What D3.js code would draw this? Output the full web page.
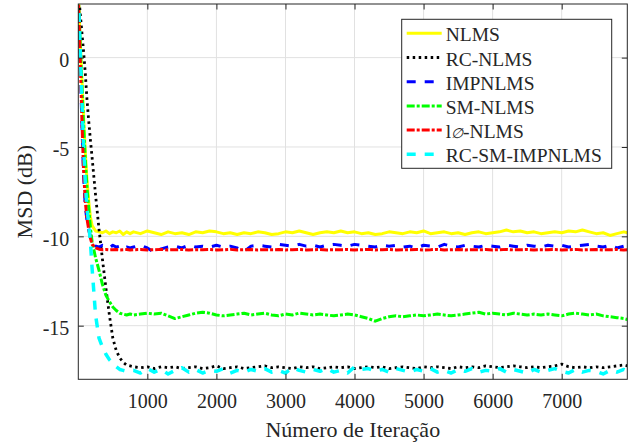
<!DOCTYPE html>
<html>
<head>
<meta charset="utf-8">
<script src="https://cdn.jsdelivr.net/npm/d3@7"></script>
<style>
  html, body { margin: 0; padding: 0; background: #fff; }
  svg { display: block; }
  text { font-family: "Liberation Serif", "Times New Roman", serif; fill: #262626; }
</style>
</head>
<body>
<svg id="chart" width="635" height="443"></svg>
<script>
// ---------- DATA ----------
const iterations = [0,25,50,75,100,125,150,175,200,250,300,350,400,450,500,550,600,650,700,750,
  800,900,1000,1100,1200,1300,1400,1500,1600,1700,
  1800,1900,2000,2100,2200,2300,2400,2500,2600,2700,
  2800,2900,3000,3100,3200,3300,3400,3500,3600,3700,
  3800,3900,4000,4100,4200,4300,4400,4500,4600,4700,
  4800,4900,5000,5100,5200,5300,5400,5500,5600,5700,
  5800,5900,6000,6100,6200,6300,6400,6500,6600,6700,
  6800,6900,7000,7100,7200,7300,7400,7500,7600,7700,
  7800,7900,7950];

const nlms = [3.5,1.2,-1.0,-3.2,-5.2,-6.8,-8.0,-8.9,-9.4,-9.7,-9.75,-9.8,-9.7,-9.85,-9.75,-9.8,-9.7,-9.9,-9.75,-9.85,
  -9.75,-9.85,-9.7,-9.8,-9.9,-9.75,-9.85,-9.8,-9.9,-9.75,
  -9.8,-9.7,-9.75,-9.85,-9.8,-9.9,-9.8,-9.85,-9.75,-9.8,
  -9.9,-9.85,-9.75,-9.8,-9.7,-9.8,-9.9,-9.8,-9.75,-9.8,
  -9.7,-9.8,-9.75,-9.85,-9.8,-9.9,-9.85,-9.75,-9.8,-9.85,
  -9.75,-9.8,-9.7,-9.85,-9.8,-9.75,-9.85,-9.8,-9.9,-9.8,
  -9.75,-9.85,-9.8,-9.75,-9.65,-9.75,-9.7,-9.8,-9.75,-9.85,
  -9.8,-9.75,-9.8,-9.7,-9.75,-9.65,-9.75,-9.85,-9.8,-9.95,
  -9.85,-9.75,-9.8];

const rcNlms = [3.8,2.6,1.5,0.4,-0.8,-2.3,-3.5,-4.6,-5.6,-7.7,-9.6,-11.3,-12.9,-14.4,-15.7,-16.4,-16.8,-17.05,-17.2,-17.25,
  -17.3,-17.35,-17.3,-17.4,-17.3,-17.35,-17.3,-17.4,-17.35,-17.3,
  -17.4,-17.35,-17.25,-17.4,-17.35,-17.3,-17.4,-17.35,-17.3,-17.25,
  -17.35,-17.3,-17.35,-17.4,-17.3,-17.35,-17.3,-17.4,-17.35,-17.3,
  -17.35,-17.3,-17.4,-17.35,-17.3,-17.35,-17.3,-17.4,-17.35,-17.3,
  -17.35,-17.4,-17.3,-17.35,-17.3,-17.35,-17.4,-17.3,-17.35,-17.3,
  -17.35,-17.25,-17.3,-17.35,-17.3,-17.25,-17.3,-17.35,-17.3,-17.35,
  -17.3,-17.25,-17.15,-17.3,-17.35,-17.3,-17.35,-17.3,-17.35,-17.3,
  -17.25,-17.2,-17.25];

const impnlms = [3.5,0.2,-3.5,-6.5,-8.3,-9.1,-9.6,-10.0,-10.3,-10.55,-10.6,-10.5,-10.55,-10.65,-10.5,-10.6,-10.55,-10.7,-10.6,-10.65,
  -10.6,-10.5,-10.65,-10.9,-10.7,-10.6,-10.55,-10.65,-10.5,-10.6,
  -10.55,-10.6,-10.5,-10.6,-10.55,-10.65,-10.85,-10.55,-10.5,-10.55,
  -10.6,-10.45,-10.5,-10.55,-10.45,-10.55,-10.5,-10.6,-10.5,-10.45,
  -10.5,-10.55,-10.45,-10.5,-10.55,-10.6,-10.5,-10.55,-10.5,-10.6,
  -10.55,-10.65,-10.5,-10.55,-10.6,-10.45,-10.55,-10.6,-10.5,-10.55,
  -10.6,-10.5,-10.55,-10.6,-10.5,-10.55,-10.6,-10.5,-10.55,-10.6,
  -10.5,-10.55,-10.5,-10.6,-10.55,-10.5,-10.45,-10.55,-10.6,-10.5,
  -10.65,-10.55,-10.6];

const smNlms = [3.5,1.0,-1.3,-3.6,-5.6,-7.2,-8.4,-9.5,-10.3,-11.2,-11.9,-12.7,-13.3,-13.65,-13.95,-14.15,-14.3,-14.35,-14.4,-14.35,
  -14.4,-14.35,-14.3,-14.35,-14.3,-14.45,-14.6,-14.5,-14.4,-14.3,
  -14.25,-14.3,-14.4,-14.45,-14.4,-14.35,-14.3,-14.4,-14.35,-14.3,
  -14.4,-14.45,-14.35,-14.4,-14.3,-14.35,-14.4,-14.35,-14.4,-14.45,
  -14.4,-14.35,-14.4,-14.5,-14.6,-14.75,-14.6,-14.5,-14.45,-14.5,
  -14.45,-14.4,-14.45,-14.4,-14.35,-14.4,-14.45,-14.4,-14.35,-14.3,
  -14.25,-14.35,-14.3,-14.35,-14.4,-14.3,-14.35,-14.4,-14.35,-14.4,
  -14.35,-14.4,-14.45,-14.35,-14.3,-14.35,-14.4,-14.35,-14.45,-14.5,
  -14.55,-14.6,-14.65];

const l0Nlms = [3.5,0.3,-3.2,-6.2,-8.0,-9.0,-9.6,-10.1,-10.45,-10.65,-10.72,-10.75,-10.74,-10.76,-10.75,-10.74,-10.76,-10.75,-10.74,-10.76,
  -10.75,-10.74,-10.76,-10.75,-10.73,-10.76,-10.75,-10.74,-10.76,-10.75,
  -10.75,-10.74,-10.76,-10.75,-10.73,-10.76,-10.75,-10.74,-10.76,-10.75,
  -10.75,-10.74,-10.76,-10.75,-10.73,-10.76,-10.75,-10.74,-10.76,-10.75,
  -10.75,-10.74,-10.76,-10.75,-10.73,-10.76,-10.75,-10.74,-10.76,-10.75,
  -10.75,-10.74,-10.76,-10.75,-10.73,-10.76,-10.75,-10.74,-10.76,-10.75,
  -10.75,-10.74,-10.76,-10.75,-10.73,-10.76,-10.75,-10.74,-10.76,-10.75,
  -10.75,-10.74,-10.76,-10.75,-10.73,-10.76,-10.75,-10.74,-10.76,-10.75,
  -10.74,-10.76,-10.75];

const rcSmImpnlms = [3.5,0.8,-2.2,-4.8,-6.9,-8.4,-9.3,-10.3,-11.8,-14.4,-15.7,-16.2,-16.6,-16.9,-17.1,-17.3,-17.45,-17.5,-17.55,-17.5,
  -17.5,-17.65,-17.4,-17.6,-17.45,-17.7,-17.5,-17.35,-17.6,-17.45,
  -17.65,-17.5,-17.55,-17.4,-17.65,-17.5,-17.6,-17.45,-17.55,-17.4,
  -17.6,-17.5,-17.65,-17.35,-17.5,-17.6,-17.45,-17.55,-17.4,-17.6,
  -17.5,-17.65,-17.3,-17.45,-17.4,-17.55,-17.45,-17.6,-17.4,-17.5,
  -17.6,-17.45,-17.55,-17.4,-17.6,-17.5,-17.65,-17.45,-17.55,-17.4,
  -17.6,-17.5,-17.55,-17.4,-17.6,-17.45,-17.55,-17.65,-17.45,-17.6,
  -17.5,-17.4,-17.55,-17.65,-17.45,-17.6,-17.5,-17.55,-17.7,-17.5,
  -17.6,-17.45,-17.55];

const seriesNames = ["NLMS","RC-NLMS","IMPNLMS","SM-NLMS","l\u2205-NLMS","RC-SM-IMPNLMS"];
const xTicks = [1000,2000,3000,4000,5000,6000,7000];
const yTicks = [0,-5,-10,-15];
const xLabel = "Número de Iteração";
const yLabel = "MSD (dB)";

// ---------- STYLES ----------
const styles = [
  { color: "#ffff00", dash: null,        width: 3 },
  { color: "#000000", dash: "2.5,3.5",   width: 2.8 },
  { color: "#0000ff", dash: "9,9",       width: 3 },
  { color: "#00ff00", dash: "8,2,3,2",   width: 3 },
  { color: "#ff0000", dash: "8,2,3,2",   width: 3 },
  { color: "#00ffff", dash: "9,9",       width: 3.5 }
];
const seriesValues = [nlms, rcNlms, impnlms, smNlms, l0Nlms, rcSmImpnlms];

// ---------- LAYOUT ----------
const L = 78.3, R = 627.3, T = 4, B = 379.3;
const svg = d3.select("#chart");
const x = d3.scaleLinear().domain([0, 7950]).range([L, R]);
const y = d3.scaleLinear().domain([-18, 3]).range([B, T]);
const fmt = d => String(d);

// grid
const grid = svg.append("g").attr("stroke", "#e1e1e1").attr("stroke-width", 1);
grid.selectAll("line.gx").data(xTicks).join("line")
  .attr("x1", d => x(d)).attr("x2", d => x(d)).attr("y1", T).attr("y2", B);
grid.selectAll("line.gy").data(yTicks).join("line")
  .attr("y1", d => y(d)).attr("y2", d => y(d)).attr("x1", L).attr("x2", R);

// clip
svg.append("clipPath").attr("id", "clip").append("rect")
  .attr("x", L).attr("y", T).attr("width", R - L).attr("height", B - T);

const line = d3.line().x((d, i) => x(iterations[i])).y(d => y(d));
const plot = svg.append("g").attr("clip-path", "url(#clip)");
seriesValues.forEach((vals, k) => {
  const s = styles[k];
  plot.append("path").datum(vals)
    .attr("d", line)
    .attr("fill", "none")
    .attr("stroke", s.color)
    .attr("stroke-width", s.width)
    .attr("stroke-linejoin", "round")
    .attr("stroke-dasharray", s.dash);
});

// axes
const tick = 5.5;
const ax = svg.append("g").attr("transform", `translate(0,${B})`)
  .call(d3.axisBottom(x).tickValues(xTicks).tickFormat(fmt).tickSize(-tick).tickSizeOuter(0).tickPadding(15));
const ay = svg.append("g").attr("transform", `translate(${L},0)`)
  .call(d3.axisLeft(y).tickValues(yTicks).tickFormat(fmt).tickSize(-tick).tickSizeOuter(0).tickPadding(9));
const at = svg.append("g").attr("transform", `translate(0,${T})`)
  .call(d3.axisTop(x).tickValues(xTicks).tickSize(-tick).tickSizeOuter(0).tickFormat(""));
const ar = svg.append("g").attr("transform", `translate(${R},0)`)
  .call(d3.axisRight(y).tickValues(yTicks).tickSize(-tick).tickSizeOuter(0).tickFormat(""));
[ax, ay, at, ar].forEach(g => {
  g.select(".domain").remove();
  g.selectAll(".tick line").attr("stroke", "#262626").attr("stroke-width", 1);
  g.selectAll("text").attr("font-size", 20).attr("fill", "#262626")
    .style("font-family", '"Liberation Serif", serif');
});
ay.selectAll("text").attr("dy", "0.45em");

svg.append("rect").attr("x", L).attr("y", T).attr("width", R - L).attr("height", B - T)
  .attr("fill", "none").attr("stroke", "#262626").attr("stroke-width", 1);

// axis labels
svg.append("text").attr("x", (L + R) / 2).attr("y", 437).attr("text-anchor", "middle")
  .attr("font-size", 22).text(xLabel);
svg.append("text").attr("transform", `translate(32,${(T + B) / 2}) rotate(-90)`)
  .attr("text-anchor", "middle").attr("font-size", 22).text(yLabel);

// legend
const lg = svg.append("g");
lg.append("rect").attr("x", 401.7).attr("y", 19.3).attr("width", 210).attr("height", 149)
  .attr("fill", "#fff").attr("stroke", "#262626").attr("stroke-width", 1);
seriesNames.forEach((name, k) => {
  const cy = 33.3 + k * 24.2;
  const s = styles[k];
  lg.append("line").attr("x1", 406.7).attr("x2", 441.7).attr("y1", cy).attr("y2", cy)
    .attr("stroke", s.color).attr("stroke-width", s.width).attr("stroke-dasharray", s.dash);
  const t = lg.append("text").attr("x", 445.7).attr("y", cy + 8).attr("font-size", 19.5);
  if (name.includes("\u2205")) {
    const parts = name.split("\u2205");
    t.append("tspan").text(parts[0]);
    t.append("tspan").attr("font-size", 14).attr("font-style", "italic").text("\u2205");
    t.append("tspan").text(parts[1]);
  } else {
    t.text(name);
  }
});
</script>
</body>
</html>
